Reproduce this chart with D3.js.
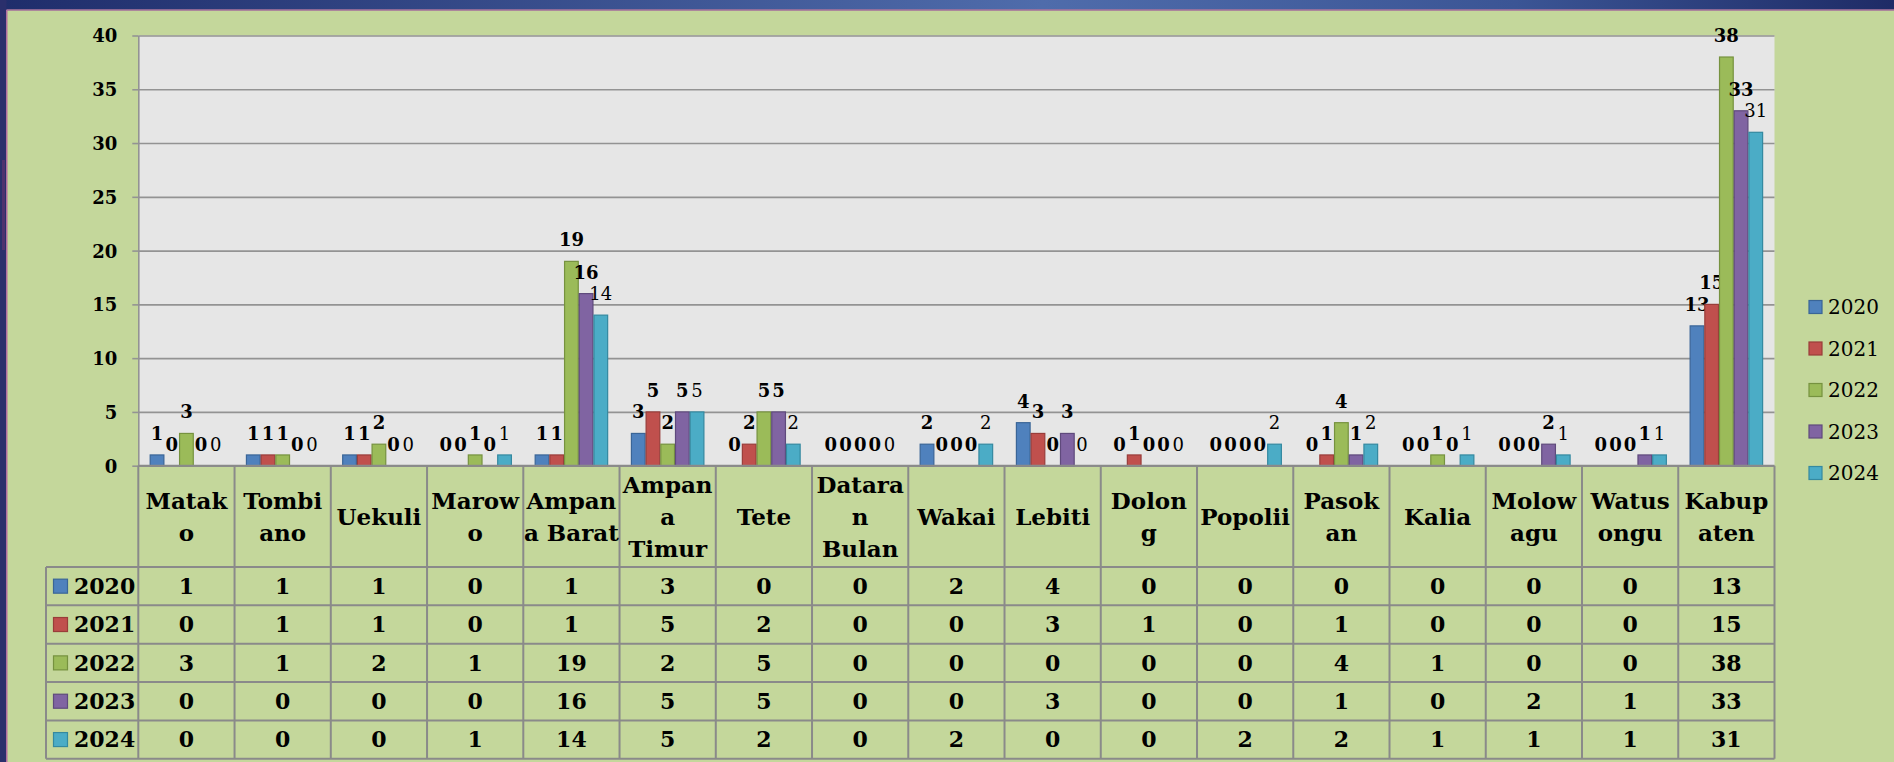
<!DOCTYPE html>
<html>
<head>
<meta charset="utf-8">
<script src="https://cdn.jsdelivr.net/npm/d3@7"></script>
<style>
  html, body { margin: 0; padding: 0; background: #c4d79b; overflow: hidden; }
  svg { display: block; }
</style>
</head>
<body>
<svg id="chart" width="1894" height="762"></svg>
<script>
// Kecamatan (district) names and their wrapped header lines in the data table
const categories = ["Matako", "Tombiano", "Uekuli", "Marowo", "Ampana Barat", "Ampana Timur", "Tete",
  "Dataran Bulan", "Wakai", "Lebiti", "Dolong", "Popolii", "Pasokan", "Kalia", "Molowagu", "Watusongu", "Kabupaten"];
const headerLines = [["Matak", "o"], ["Tombi", "ano"], ["Uekuli"], ["Marow", "o"], ["Ampan", "a Barat"],
  ["Ampan", "a", "Timur"], ["Tete"], ["Datara", "n", "Bulan"], ["Wakai"], ["Lebiti"], ["Dolon", "g"],
  ["Popolii"], ["Pasok", "an"], ["Kalia"], ["Molow", "agu"], ["Watus", "ongu"], ["Kabup", "aten"]];

const years = ["2020", "2021", "2022", "2023", "2024"];
const v2020 = [1, 1, 1, 0, 1, 3, 0, 0, 2, 4, 0, 0, 0, 0, 0, 0, 13];
const v2021 = [0, 1, 1, 0, 1, 5, 2, 0, 0, 3, 1, 0, 1, 0, 0, 0, 15];
const v2022 = [3, 1, 2, 1, 19, 2, 5, 0, 0, 0, 0, 0, 4, 1, 0, 0, 38];
const v2023 = [0, 0, 0, 0, 16, 5, 5, 0, 0, 3, 0, 0, 1, 0, 2, 1, 33];
const v2024 = [0, 0, 0, 1, 14, 5, 2, 0, 2, 0, 0, 2, 2, 1, 1, 1, 31];

const yTicks = [0, 5, 10, 15, 20, 25, 30, 35, 40];

const fills   = ["#4f81bd", "#c0504d", "#9bbb59", "#8064a2", "#4bacc6"];
const strokes = ["#3a6597", "#993d3a", "#76923f", "#5f4a7c", "#3489a0"];

// series table built from the arrays above
const seriesValues = [v2020, v2021, v2022, v2023, v2024];
const series = years.map((yr, i) => ({ year: yr, values: seriesValues[i], fill: fills[i], stroke: strokes[i], bold: i < 4 }));

const W = 1894, H = 762;
const plotL = 138.3, plotR = 1774.5, plotT = 35.5, plotB = 465.7;
const headB = 567;
const rowH = 38.35;
const tableL = 46;
const serif = "'DejaVu Serif', 'Liberation Serif', serif";
const gridCol = "#939393";
const tableCol = "#8a8a8a";

const svg = d3.select("#chart");

// ---- slide frame ----
const defs = svg.append("defs");
const topGrad = defs.append("linearGradient").attr("id", "topBand").attr("x1", "0").attr("x2", "1").attr("y1", "0").attr("y2", "0");
topGrad.append("stop").attr("offset", "0").attr("stop-color", "#1f2d6b");
topGrad.append("stop").attr("offset", "0.55").attr("stop-color", "#4f6cab");
topGrad.append("stop").attr("offset", "0.8").attr("stop-color", "#3b5595");
topGrad.append("stop").attr("offset", "1").attr("stop-color", "#1e2b66");

svg.append("rect").attr("x", 0).attr("y", 0).attr("width", W).attr("height", H).attr("fill", "#c4d79b");
svg.append("rect").attr("x", 0).attr("y", 0).attr("width", W).attr("height", 10).attr("fill", "url(#topBand)");
svg.append("rect").attr("x", 0).attr("y", 9).attr("width", W).attr("height", 2).attr("fill", "#a5739b").attr("opacity", 0.8);
svg.append("rect").attr("x", 0).attr("y", 0).attr("width", 6.5).attr("height", H).attr("fill", "#2a2f6c");
svg.append("rect").attr("x", 2).attr("y", 160).attr("width", 3).attr("height", 90).attr("fill", "#6a3370").attr("opacity", 0.6);
svg.append("rect").attr("x", 6).attr("y", 10).attr("width", 1.5).attr("height", H).attr("fill", "#b06fa0");

// ---- scales ----
const x0 = d3.scaleBand().domain(categories).range([plotL, plotR]).paddingInner(0).paddingOuter(0);
const x1 = d3.scaleBand().domain(years).range([0, x0.bandwidth()]).paddingInner(0).paddingOuter(0.775);
const y = d3.scaleLinear().domain([0, 40]).range([plotB, plotT]);

// ---- plot area ----
svg.append("rect").attr("x", plotL).attr("y", plotT).attr("width", plotR - plotL).attr("height", plotB - plotT).attr("fill", "#e6e6e6");

// horizontal gridlines
const grid = svg.append("g").attr("transform", `translate(${plotL},0)`)
  .call(d3.axisLeft(y).tickValues(yTicks).tickSize(-(plotR - plotL)).tickFormat(""));
grid.select(".domain").remove();
grid.selectAll("line").attr("stroke", gridCol).attr("stroke-width", 1.6);

// value axis with outside ticks
const yAxis = svg.append("g").attr("transform", `translate(${plotL},0)`)
  .call(d3.axisLeft(y).tickValues(yTicks).tickSize(6).tickPadding(15).tickSizeOuter(0));
yAxis.select(".domain").attr("stroke", gridCol).attr("stroke-width", 1.6);
yAxis.selectAll(".tick line").attr("stroke", gridCol).attr("stroke-width", 1.6);
yAxis.selectAll(".tick text")
  .attr("font-family", serif).attr("font-weight", "bold").attr("font-size", 18).attr("fill", "#000")
  .attr("dy", "0.36em");

// ---- bars ----
const groups = svg.append("g").selectAll("g")
  .data(series).join("g");

groups.selectAll("rect")
  .data(s => s.values.map((v, i) => ({ v, cat: categories[i], s })))
  .join("rect")
  .attr("x", d => x0(d.cat) + x1(d.s.year) + 0.5)
  .attr("y", d => y(d.v))
  .attr("width", x1.bandwidth() - 1)
  .attr("height", d => y(0) - y(d.v))
  .attr("fill", d => d.s.fill)
  .attr("stroke", d => d.s.stroke)
  .attr("stroke-width", d => d.v > 0 ? 1.2 : 0);

// data labels
groups.selectAll("text")
  .data(s => s.values.map((v, i) => ({ v, cat: categories[i], s })))
  .join("text")
  .attr("x", d => x0(d.cat) + x1(d.s.year) + x1.bandwidth() / 2)
  .attr("y", d => y(d.v) - 15)
  .attr("text-anchor", "middle")
  .attr("font-family", serif)
  .attr("font-weight", d => d.s.bold ? "bold" : "normal")
  .attr("font-size", 18)
  .attr("fill", "#000")
  .text(d => d.v);

// ---- data table ----
const table = svg.append("g");
const rowTop = i => headB + i * rowH;
const tableB = rowTop(years.length);

// horizontal lines
table.append("line").attr("x1", plotL).attr("x2", plotR).attr("y1", plotB).attr("y2", plotB);
for (let r = 0; r <= years.length; r++) {
  table.append("line").attr("x1", tableL).attr("x2", plotR).attr("y1", rowTop(r)).attr("y2", rowTop(r));
}
// vertical lines at each category boundary
categories.forEach(c => {
  table.append("line").attr("x1", x0(c)).attr("x2", x0(c)).attr("y1", plotB).attr("y2", tableB);
});
table.append("line").attr("x1", plotR).attr("x2", plotR).attr("y1", plotB).attr("y2", tableB);
table.append("line").attr("x1", tableL).attr("x2", tableL).attr("y1", headB).attr("y2", tableB);
table.selectAll("line").attr("stroke", tableCol).attr("stroke-width", 2);

// header cells
const headMid = (plotB + headB) / 2;
const lineGap = 32;
categories.forEach((c, i) => {
  const lines = headerLines[i];
  const cx = x0(c) + x0.bandwidth() / 2;
  const t = table.append("text")
    .attr("x", cx).attr("text-anchor", "middle")
    .attr("font-family", serif).attr("font-weight", "bold").attr("font-size", 23).attr("fill", "#000");
  lines.forEach((ln, k) => {
    t.append("tspan").attr("x", cx)
      .attr("y", headMid + (k - (lines.length - 1) / 2) * lineGap)
      .attr("dy", "0.36em").text(ln);
  });
});

// row headers with legend keys, and values
series.forEach((s, r) => {
  const cy = rowTop(r) + rowH / 2;
  table.append("rect").attr("x", 53.5).attr("y", cy - 7).attr("width", 14).attr("height", 14)
    .attr("fill", s.fill).attr("stroke", s.stroke).attr("stroke-width", 1.2);
  table.append("text").attr("x", 74).attr("y", cy).attr("dy", "0.36em")
    .attr("font-family", serif).attr("font-weight", "bold").attr("font-size", 22).attr("fill", "#000")
    .text(s.year);
  s.values.forEach((v, i) => {
    table.append("text")
      .attr("x", x0(categories[i]) + x0.bandwidth() / 2).attr("y", cy).attr("dy", "0.36em")
      .attr("text-anchor", "middle")
      .attr("font-family", serif).attr("font-weight", "bold").attr("font-size", 22).attr("fill", "#000")
      .text(v);
  });
});

// ---- legend ----
const legend = svg.append("g").attr("transform", "translate(1809,307)");
series.forEach((s, i) => {
  const g = legend.append("g").attr("transform", `translate(0,${i * 41.5})`);
  g.append("rect").attr("x", 0).attr("y", -6.5).attr("width", 13).attr("height", 13)
    .attr("fill", s.fill).attr("stroke", s.stroke).attr("stroke-width", 1.2);
  g.append("text").attr("x", 19).attr("y", 0).attr("dy", "0.36em")
    .attr("font-family", serif).attr("font-size", 20).attr("fill", "#000")
    .text(s.year);
});
</script>
</body>
</html>
